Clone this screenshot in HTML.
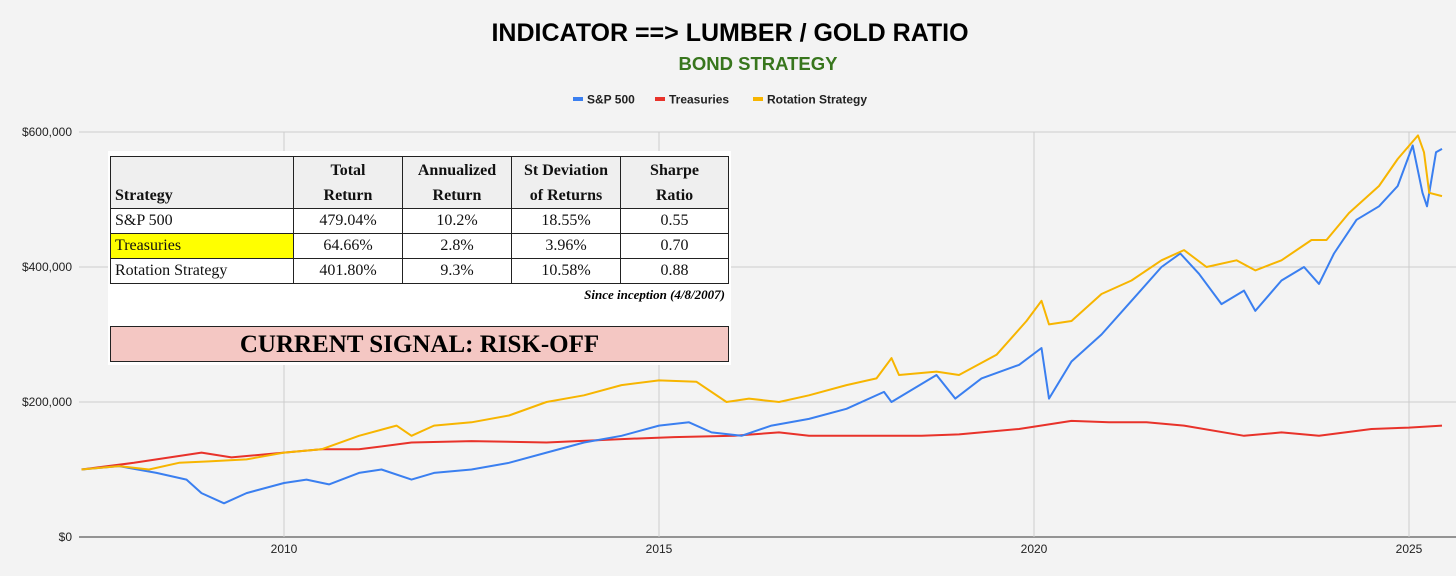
<!DOCTYPE html>
<html><head><meta charset="utf-8"><style>
body{margin:0;background:#f3f3f3;font-family:"Liberation Sans",sans-serif}
#wrap{position:relative;width:1456px;height:576px;overflow:hidden;background:#f3f3f3}
svg{position:absolute;left:0;top:0}
#tblbox{position:absolute;left:108px;top:151px;width:623px;height:214px;background:#fff}
table{position:absolute;left:2px;top:5px;border-collapse:collapse;font-family:"Liberation Serif",serif;font-size:16px;color:#111}
td{border:1px solid #222;height:24px;padding:0 4px;text-align:center;line-height:24px}
tr.h td{background:#efefef;font-weight:bold;line-height:25px;height:51px;vertical-align:bottom}
#since{position:absolute;right:6px;top:136px;font-family:"Liberation Serif",serif;font-style:italic;font-weight:bold;font-size:13px}
#signal{position:absolute;left:2px;top:175px;width:617px;height:34px;background:#f4c7c3;border:1px solid #222;text-align:center;font-family:"Liberation Serif",serif;font-weight:bold;font-size:25px;line-height:35px}
</style></head><body>
<div id="wrap">
<svg id="chart" width="1456" height="576"></svg>
<div id="tblbox">
<table>
<tr class="h"><td style="width:174px;text-align:left">Strategy</td><td style="width:100px">Total<br>Return</td><td style="width:100px">Annualized<br>Return</td><td style="width:100px">St Deviation<br>of Returns</td><td style="width:99px">Sharpe<br>Ratio</td></tr>
<tr><td style="text-align:left">S&amp;P 500</td><td>479.04%</td><td>10.2%</td><td>18.55%</td><td>0.55</td></tr>
<tr><td style="text-align:left;background:#ffff00">Treasuries</td><td>64.66%</td><td>2.8%</td><td>3.96%</td><td>0.70</td></tr>
<tr><td style="text-align:left">Rotation Strategy</td><td>401.80%</td><td>9.3%</td><td>10.58%</td><td>0.88</td></tr>
</table>
<div id="since">Since inception (4/8/2007)</div>
<div id="signal">CURRENT SIGNAL: RISK-OFF</div>
</div>
</div>
<script>
const yTicks=[0,200000,400000,600000];
const yTickLabels=["$0","$200,000","$400,000","$600,000"];
const xTicks=[2010,2015,2020,2025];
const spT=[2007.3,2007.8,2008.3,2008.7,2008.9,2009.2,2009.5,2010.0,2010.3,2010.6,2011.0,2011.3,2011.7,2012.0,2012.5,2013.0,2013.5,2014.0,2014.5,2015.0,2015.4,2015.7,2016.1,2016.5,2017.0,2017.5,2018.0,2018.1,2018.7,2018.95,2019.3,2019.8,2020.1,2020.2,2020.5,2020.9,2021.3,2021.7,2021.95,2022.2,2022.5,2022.8,2022.95,2023.3,2023.6,2023.8,2024.0,2024.3,2024.6,2024.85,2025.05,2025.18,2025.24,2025.36,2025.44];
const spV=[100,105,95,85,65,50,65,80,85,78,95,100,85,95,100,110,125,140,150,165,170,155,150,165,175,190,215,200,240,205,235,255,280,205,260,300,350,400,420,390,345,365,335,380,400,375,420,470,490,520,580,510,490,570,575];
const rotT=[2007.3,2007.8,2008.2,2008.6,2009.0,2009.5,2010.0,2010.5,2011.0,2011.5,2011.7,2012.0,2012.5,2013.0,2013.5,2014.0,2014.5,2015.0,2015.5,2015.9,2016.2,2016.6,2017.0,2017.5,2017.9,2018.1,2018.2,2018.7,2019.0,2019.5,2019.9,2020.1,2020.2,2020.5,2020.9,2021.3,2021.7,2022.0,2022.3,2022.7,2022.95,2023.3,2023.7,2023.9,2024.2,2024.6,2024.85,2025.12,2025.2,2025.27,2025.44];
const rotV=[100,105,100,110,112,115,125,130,150,165,150,165,170,180,200,210,225,232,230,200,205,200,210,225,235,265,240,245,240,270,320,350,315,320,360,380,410,425,400,410,395,410,440,440,480,520,560,595,570,510,505];
const trT=[2007.3,2008.0,2008.9,2009.3,2010.0,2010.5,2011.0,2011.7,2012.5,2013.5,2014.5,2015.2,2016.0,2016.6,2017.0,2018.5,2019.0,2019.8,2020.5,2021.0,2021.5,2022.0,2022.8,2023.3,2023.8,2024.5,2025.0,2025.44];
const trV=[100,110,125,118,125,130,130,140,142,140,145,148,150,155,150,150,152,160,172,170,170,165,150,155,150,160,162,165];
const NS="http://www.w3.org/2000/svg";
const svg=document.getElementById('chart');
const X=t=>284+(t-2010)*75;
const Y=v=>537-v/200000*135;
function mk(tag,attrs,txt){const e=document.createElementNS(NS,tag);for(const k in attrs)e.setAttribute(k,attrs[k]);if(txt!==undefined)e.textContent=txt;svg.appendChild(e);return e;}
let e;
e=mk('text',{x:730,y:41,'text-anchor':'middle','font-size':25,'font-weight':'bold',fill:'#000'},'INDICATOR ==> LUMBER / GOLD RATIO');


e=mk('text',{x:758,y:70,'text-anchor':'middle','font-size':18.5,'font-weight':'bold',fill:'#38761d'},'BOND STRATEGY');


yTicks.forEach((v,i)=>{
  e=mk('line',{x1:79,x2:1456,y1:Y(v),y2:Y(v),stroke:i==0?'#333':'#ccc','stroke-width':1});
  
  
  e=mk('text',{x:72,y:Y(v)+4,'text-anchor':'end','font-size':12,fill:'#222'},yTickLabels[i]);
  
  
});
xTicks.forEach(t=>{
  e=mk('line',{x1:X(t),x2:X(t),y1:132,y2:537,stroke:'#ccc','stroke-width':1});
  
  
  e=mk('text',{x:X(t),y:553,'text-anchor':'middle','font-size':12,fill:'#222'},String(t));
  
  
});
function series(ts,vs,color,name){
  const d=ts.map((t,i)=>(i?'L':'M')+X(t).toFixed(1)+','+Y(vs[i]*1000).toFixed(1)).join('');
  const p=mk('path',{d:d,fill:'none',stroke:color,'stroke-width':2,'stroke-linejoin':'round'});
  
  
}
series(trT,trV,'#e8322a','treasuries-line');
series(spT,spV,'#3a7ff0','sp500-line');
series(rotT,rotV,'#f7b500','rotation-strategy-line');
const leg=[['S&P 500','#3a7ff0',573],['Treasuries','#e8322a',655],['Rotation Strategy','#f7b500',753]];
leg.forEach(l=>{
  e=mk('rect',{x:l[2],y:97,width:10,height:4,fill:l[1]});
  
  
  e=mk('text',{x:l[2]+14,y:103.5,'font-size':12,'font-weight':'bold',fill:'#222'},l[0]);
  
  
});
</script>
</body></html>
